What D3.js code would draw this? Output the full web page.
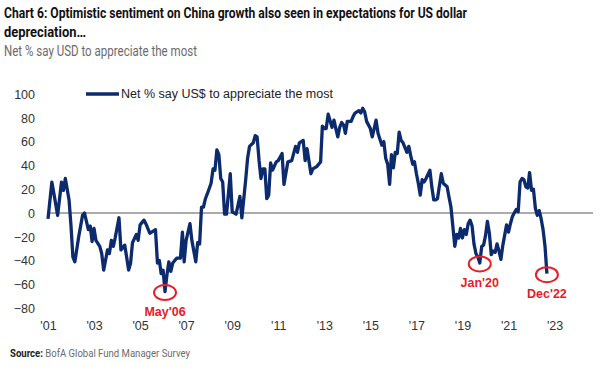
<!DOCTYPE html>
<html>
<head>
<meta charset="utf-8">
<script src="https://cdn.jsdelivr.net/npm/d3@7"></script>
<style>
  body { margin: 0; background: #fff; }
  svg { display: block; }
</style>
</head>
<body>
<svg id="chart" width="600" height="369"></svg>
<script>
// monthly survey readings
var months = [
  "2001-04","2001-06","2001-07","2001-09","2001-11","2001-12","2002-01","2002-03","2002-04","2002-05",
  "2002-06","2002-08","2002-10","2002-11","2003-01","2003-02","2003-03","2003-04","2003-05","2003-07",
  "2003-08","2003-09","2003-11","2003-12","2004-01","2004-02","2004-03","2004-05","2004-06","2004-08",
  "2004-10","2004-11","2004-12","2005-02","2005-03","2005-04","2005-06","2005-07","2005-09","2005-10",
  "2005-12","2006-01","2006-02","2006-03","2006-04","2006-05","2006-06","2006-07","2006-08","2006-09",
  "2006-11","2007-01","2007-02","2007-03","2007-04","2007-06","2007-07","2007-09","2007-10","2007-11",
  "2007-12","2008-01","2008-02","2008-03","2008-05","2008-06","2008-07","2008-08","2008-09","2008-10",
  "2008-11","2008-12","2009-01","2009-03","2009-04","2009-06","2009-08","2009-09","2009-11","2009-12",
  "2010-01","2010-03","2010-04","2010-05","2010-06","2010-07","2010-08","2010-09","2010-10","2010-11",
  "2010-12","2011-01","2011-03","2011-04","2011-06","2011-07","2011-09","2011-11","2012-01","2012-02",
  "2012-03","2012-05","2012-06","2012-07","2012-09","2012-10","2012-12","2013-02","2013-03","2013-04",
  "2013-05","2013-06","2013-08","2013-09","2013-10","2013-11","2013-12","2014-01","2014-02","2014-03",
  "2014-04","2014-06","2014-07","2014-08","2014-10","2014-11","2014-12","2015-01","2015-02","2015-04",
  "2015-05","2015-06","2015-07","2015-08","2015-10","2015-11","2015-12","2016-01","2016-02","2016-03",
  "2016-04","2016-05","2016-06","2016-07","2016-08","2016-09","2016-11","2016-12","2017-01","2017-02",
  "2017-03","2017-04","2017-05","2017-06","2017-07","2017-08","2017-09","2017-11","2017-12","2018-01",
  "2018-02","2018-03","2018-04","2018-05","2018-06","2018-08","2018-09","2018-10","2018-11","2018-12",
  "2019-01","2019-02","2019-03","2019-04","2019-05","2019-06","2019-07","2019-08","2019-09","2019-10",
  "2019-11","2019-12","2020-01","2020-02","2020-03","2020-04","2020-05","2020-06","2020-07","2020-08",
  "2020-09","2020-10","2020-11","2020-12","2021-01","2021-03","2021-04","2021-05","2021-06","2021-07",
  "2021-08","2021-09","2021-10","2021-11","2021-12","2022-01","2022-02","2022-03","2022-04","2022-05",
  "2022-06","2022-07","2022-08","2022-09","2022-10","2022-11","2022-12"
]
var netUsd = [
  -5, 26, 17, -2, 26, 19, 29, 11, -11, -37,
  -41, -20, -2, 0, -14, -11, -24, -13, -23, -28,
  -34, -48, -31, -34, -23, -28, -21, -4, -31, -27,
  -48, -42, -25, -18, -23, -10, -6, -9, -17, -16,
  -14, -42, -40, -51, -48, -66, -52, -41, -49, -42,
  -38, -38, -16, -41, -23, -9, -23, -41, -25, -26,
  5, 5, 12, 16, 25, 37, 36, 53, 49, 29,
  26, -1, -1, 33, 1, -1, 14, -4, 28, 46,
  56, 59, 65, 64, 44, 29, 37, 37, 12, 15,
  42, 36, 43, 44, 50, 24, 43, 44, 56, 51,
  59, 61, 44, 54, 33, 37, 39, 43, 73, 71,
  71, 83, 72, 78, 71, 64, 72, 76, 74, 67,
  77, 77, 81, 84, 86, 84, 88, 85, 77, 71,
  64, 71, 78, 67, 57, 60, 46, 41, 24, 49,
  38, 51, 50, 68, 61, 59, 51, 56, 48, 41,
  43, 33, 25, 15, 28, 26, 29, 36, 22, 11,
  11, 12, 23, 33, 25, 22, 13, 5, -12, -28,
  -18, -21, -13, -21, -14, -18, -9, -6, -11, -26,
  -34, -37, -42, -28, -27, -19, -7, -17, -35, -32,
  -33, -26, -32, -39, -27, -10, -16, -9, -3, 0,
  3, 1, 26, 29, 28, 22, 21, 34, 19, 20,
  4, -2, 2, -5, -14, -28, -51
]
var yTicks = [-80, -60, -40, -20, 0, 20, 40, 60, 80, 100]
var xTickYears = [2001, 2003, 2005, 2007, 2009, 2011, 2013, 2015, 2017, 2019, 2021, 2023]
var callouts = ["2006-05", "2020-01", "2022-12"]
var calloutLabels = ["May'06", "Jan'20", "Dec'22"]

var parseMonth = d3.timeParse("%Y-%m")
var data = months.map(function(m, i) { return { date: parseMonth(m), value: netUsd[i] } })

var svg = d3.select("#chart")
var navy = "#0c2a6e"
var red = "#e3202b"
var narrow = "Roboto, 'Liberation Sans', sans-serif"

var x = d3.scaleTime()
  .domain([new Date(2001, 3, 1), new Date(2024, 11, 1)])
  .range([48, 593])
var y = d3.scaleLinear()
  .domain([-80, 100])
  .range([308.2, 94])

// title block - the original uses a condensed face, so squeeze to the same widths
svg.append("text").attr("x", 4).attr("y", 18)
  .attr("textLength", 463).attr("lengthAdjust", "spacingAndGlyphs")
  .style("font-family", narrow)
  .style("font-weight", "bold").style("font-size", "15.5px").attr("fill", "#111")
  .text("Chart 6: Optimistic sentiment on China growth also seen in expectations for US dollar")
svg.append("text").attr("x", 4).attr("y", 37)
  .attr("textLength", 82).attr("lengthAdjust", "spacingAndGlyphs")
  .style("font-family", narrow)
  .style("font-weight", "bold").style("font-size", "15.5px").attr("fill", "#111")
  .text("depreciation…")
svg.append("text").attr("x", 4).attr("y", 56)
  .attr("textLength", 193).attr("lengthAdjust", "spacingAndGlyphs")
  .style("font-family", narrow)
  .style("font-size", "14.5px").attr("fill", "#6b6b6b")
  .text("Net % say USD to appreciate the most")

// y axis labels only, no line
var yAxis = d3.axisLeft(y).tickValues(yTicks).tickSize(0).tickPadding(0)
var gy = svg.append("g").attr("transform", "translate(35,0)").call(yAxis)
gy.select(".domain").remove()
gy.selectAll("text")
  .style("font-family", "'Liberation Sans', Arial, sans-serif")
  .style("font-size", "12.5px").attr("fill", "#333").attr("dy", "0.35em")

var xAxis = d3.axisBottom(x)
  .tickValues(xTickYears.map(function(yr) { return new Date(yr, 3, 1) }))
  .tickFormat(function(d) { return "'" + d3.timeFormat("%y")(d) })
  .tickSize(0).tickPadding(0)
var gx = svg.append("g").attr("transform", "translate(0,321)").call(xAxis)
gx.select(".domain").remove()
gx.selectAll("text")
  .style("font-family", "'Liberation Sans', Arial, sans-serif")
  .style("font-size", "12.5px").attr("fill", "#333").attr("dy", "0.71em")

// zero line
svg.append("line")
  .attr("x1", x.range()[0]).attr("x2", x.range()[1])
  .attr("y1", y(0)).attr("y2", y(0))
  .attr("stroke", "#595959").attr("stroke-width", 1.2)

var line = d3.line()
  .x(function(d) { return x(d.date) })
  .y(function(d) { return y(d.value) })

svg.append("path").datum(data)
  .attr("d", line)
  .attr("fill", "none")
  .attr("stroke", navy)
  .attr("stroke-width", 3.3)
  .attr("stroke-linejoin", "round")

// legend
svg.append("line").attr("x1", 86).attr("x2", 119).attr("y1", 94).attr("y2", 94)
  .attr("stroke", navy).attr("stroke-width", 3.3)
svg.append("text").attr("x", 121).attr("y", 94).attr("dy", "0.35em")
  .style("font-family", "'Liberation Sans', Arial, sans-serif")
  .style("font-size", "12.5px").attr("fill", "#222")
  .text("Net % say US$ to appreciate the most")

// red callouts
callouts.forEach(function(c, i) {
  var d = data.find(function(p) { return p.date.getTime() === parseMonth(c).getTime() })
  var cx = x(d.date), cy = y(d.value) + 1
  svg.append("ellipse").attr("cx", cx).attr("cy", cy).attr("rx", 11).attr("ry", 7.5)
    .attr("fill", "none").attr("stroke", red).attr("stroke-width", 2)
  svg.append("text").attr("x", cx).attr("y", cy + 23)
    .attr("text-anchor", "middle")
    .style("font-family", "'Liberation Sans', Arial, sans-serif")
    .style("font-weight", "bold").style("font-size", "12.5px").attr("fill", red)
    .text(calloutLabels[i])
})

// source
var src = svg.append("text").attr("x", 10).attr("y", 357)
  .attr("textLength", 180).attr("lengthAdjust", "spacingAndGlyphs")
  .style("font-family", narrow).style("font-size", "10.5px").attr("fill", "#6b6b6b")
src.append("tspan").style("font-weight", "bold").attr("fill", "#222").text("Source: ")
src.append("tspan").text("BofA Global Fund Manager Survey")
</script>
</body>
</html>
